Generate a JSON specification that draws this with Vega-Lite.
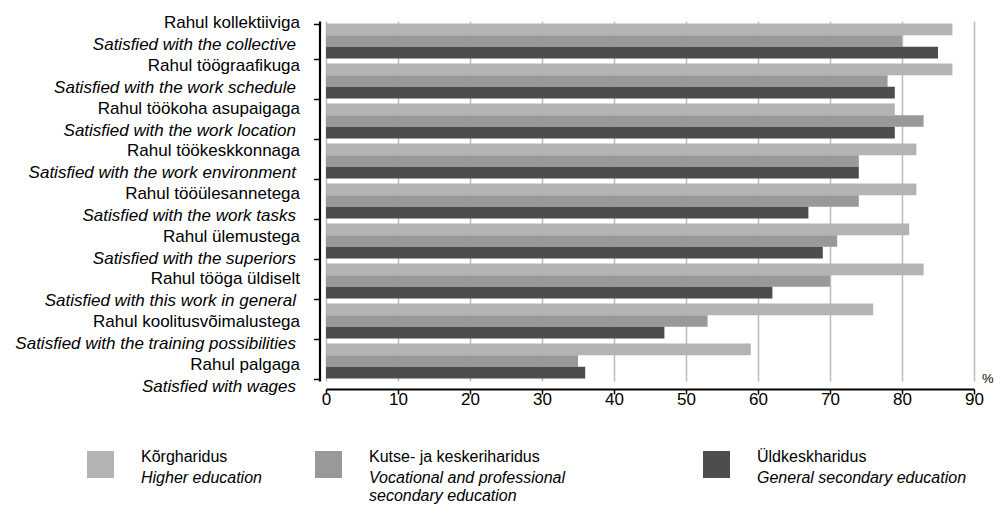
{
  "$schema": "https://vega.github.io/schema/vega-lite/v6.json",
  "autosize": {"type": "none"},
  "padding": {"left": 326, "top": 21, "right": 21, "bottom": 125},
  "width": 648,
  "height": 360,
  "config": {
    "font": "Liberation Sans",
    "view": {"stroke": null},
    "legend": {
      "padding": 0, "title": null, "orient": "none", "direction": "horizontal",
      "symbolType": "square", "symbolSize": 729, "symbolStrokeWidth": 0,
      "labelOffset": 27, "labelFontSize": 16, "labelColor": "#000000", "labelLimit": 400
    }
  },
  "data": {
    "values": [
      {"cat": "Rahul kollektiiviga", "en": "Satisfied with the collective", "edu": "Kõrgharidus", "eduEn": "Higher education", "value": 87},
      {"cat": "Rahul kollektiiviga", "en": "Satisfied with the collective", "edu": "Kutse- ja keskeriharidus", "eduEn": "Vocational and professional secondary education", "value": 80},
      {"cat": "Rahul kollektiiviga", "en": "Satisfied with the collective", "edu": "Üldkeskharidus", "eduEn": "General secondary education", "value": 85},
      {"cat": "Rahul töögraafikuga", "en": "Satisfied with the work schedule", "edu": "Kõrgharidus", "eduEn": "Higher education", "value": 87},
      {"cat": "Rahul töögraafikuga", "en": "Satisfied with the work schedule", "edu": "Kutse- ja keskeriharidus", "eduEn": "Vocational and professional secondary education", "value": 78},
      {"cat": "Rahul töögraafikuga", "en": "Satisfied with the work schedule", "edu": "Üldkeskharidus", "eduEn": "General secondary education", "value": 79},
      {"cat": "Rahul töökoha asupaigaga", "en": "Satisfied with the work location", "edu": "Kõrgharidus", "eduEn": "Higher education", "value": 79},
      {"cat": "Rahul töökoha asupaigaga", "en": "Satisfied with the work location", "edu": "Kutse- ja keskeriharidus", "eduEn": "Vocational and professional secondary education", "value": 83},
      {"cat": "Rahul töökoha asupaigaga", "en": "Satisfied with the work location", "edu": "Üldkeskharidus", "eduEn": "General secondary education", "value": 79},
      {"cat": "Rahul töökeskkonnaga", "en": "Satisfied with the work environment", "edu": "Kõrgharidus", "eduEn": "Higher education", "value": 82},
      {"cat": "Rahul töökeskkonnaga", "en": "Satisfied with the work environment", "edu": "Kutse- ja keskeriharidus", "eduEn": "Vocational and professional secondary education", "value": 74},
      {"cat": "Rahul töökeskkonnaga", "en": "Satisfied with the work environment", "edu": "Üldkeskharidus", "eduEn": "General secondary education", "value": 74},
      {"cat": "Rahul tööülesannetega", "en": "Satisfied with the work tasks", "edu": "Kõrgharidus", "eduEn": "Higher education", "value": 82},
      {"cat": "Rahul tööülesannetega", "en": "Satisfied with the work tasks", "edu": "Kutse- ja keskeriharidus", "eduEn": "Vocational and professional secondary education", "value": 74},
      {"cat": "Rahul tööülesannetega", "en": "Satisfied with the work tasks", "edu": "Üldkeskharidus", "eduEn": "General secondary education", "value": 67},
      {"cat": "Rahul ülemustega", "en": "Satisfied with the superiors", "edu": "Kõrgharidus", "eduEn": "Higher education", "value": 81},
      {"cat": "Rahul ülemustega", "en": "Satisfied with the superiors", "edu": "Kutse- ja keskeriharidus", "eduEn": "Vocational and professional secondary education", "value": 71},
      {"cat": "Rahul ülemustega", "en": "Satisfied with the superiors", "edu": "Üldkeskharidus", "eduEn": "General secondary education", "value": 69},
      {"cat": "Rahul tööga üldiselt", "en": "Satisfied with this work in general", "edu": "Kõrgharidus", "eduEn": "Higher education", "value": 83},
      {"cat": "Rahul tööga üldiselt", "en": "Satisfied with this work in general", "edu": "Kutse- ja keskeriharidus", "eduEn": "Vocational and professional secondary education", "value": 70},
      {"cat": "Rahul tööga üldiselt", "en": "Satisfied with this work in general", "edu": "Üldkeskharidus", "eduEn": "General secondary education", "value": 62},
      {"cat": "Rahul koolitusvõimalustega", "en": "Satisfied with the training possibilities", "edu": "Kõrgharidus", "eduEn": "Higher education", "value": 76},
      {"cat": "Rahul koolitusvõimalustega", "en": "Satisfied with the training possibilities", "edu": "Kutse- ja keskeriharidus", "eduEn": "Vocational and professional secondary education", "value": 53},
      {"cat": "Rahul koolitusvõimalustega", "en": "Satisfied with the training possibilities", "edu": "Üldkeskharidus", "eduEn": "General secondary education", "value": 47},
      {"cat": "Rahul palgaga", "en": "Satisfied with wages", "edu": "Kõrgharidus", "eduEn": "Higher education", "value": 59},
      {"cat": "Rahul palgaga", "en": "Satisfied with wages", "edu": "Kutse- ja keskeriharidus", "eduEn": "Vocational and professional secondary education", "value": 35},
      {"cat": "Rahul palgaga", "en": "Satisfied with wages", "edu": "Üldkeskharidus", "eduEn": "General secondary education", "value": 36}
    ]
  },
  "resolve": {
    "scale": {"y": "independent", "color": "independent"},
    "axis": {"y": "independent"},
    "legend": {"color": "independent"}
  },
  "layer": [
    {
      "mark": {"type": "bar"},
      "encoding": {
        "y": {
          "field": "cat", "type": "nominal", "sort": null,
          "scale": {"paddingInner": 0.125, "paddingOuter": 0.0625},
          "axis": {
            "orient": "left", "title": null, "labels": false, "grid": false,
            "offset": 6.5, "domainColor": "#000000", "domainWidth": 2.2,
            "ticks": true, "tickBand": "extent", "tickSize": 6, "tickColor": "#000000", "tickWidth": 1.5
          }
        },
        "yOffset": {
          "field": "edu", "type": "nominal",
          "sort": ["Kõrgharidus", "Kutse- ja keskeriharidus", "Üldkeskharidus"],
          "scale": {"paddingInner": 0, "paddingOuter": 0}
        },
        "x": {
          "field": "value", "type": "quantitative",
          "scale": {"domain": [0, 90], "nice": false},
          "axis": {
            "values": [0, 10, 20, 30, 40, 50, 60, 70, 80, 90],
            "grid": true, "gridColor": "#bdbdbd", "gridWidth": 1.5,
            "offset": 8, "domainColor": "#000000", "domainWidth": 2.2,
            "tickColor": "#000000", "tickWidth": 1.5, "tickSize": 5,
            "labelFontSize": 17, "labelColor": "#000000", "labelPadding": -3, "labelFlush": false,
            "title": "%", "titleX": 655.5, "titleY": -7, "titleAlign": "left", "titleBaseline": "alphabetic",
            "titleFontSize": 13, "titleFontWeight": "normal", "titleColor": "#000000"
          }
        },
        "color": {
          "field": "edu", "type": "nominal",
          "scale": {
            "domain": ["Kõrgharidus", "Kutse- ja keskeriharidus", "Üldkeskharidus"],
            "range": ["#b3b3b3", "#999999", "#4d4d4d"]
          },
          "legend": {"values": ["Kõrgharidus"], "legendX": -239, "legendY": 430, "labelBaseline": "bottom"}
        }
      }
    },
    {
      "mark": {"type": "point", "opacity": 0},
      "encoding": {
        "y": {
          "field": "cat", "type": "nominal", "sort": null,
          "scale": {"type": "point", "padding": 0.215},
          "axis": {
            "orient": "left", "title": null, "grid": false, "domain": false, "ticks": false, "tickSize": 0,
            "offset": 6.5, "labelPadding": 20, "labelFontSize": 17, "labelColor": "#000000",
            "labelLimit": 400, "labelOffset": -7.5
          }
        }
      }
    },
    {
      "mark": {"type": "point", "opacity": 0},
      "encoding": {
        "y": {
          "field": "en", "type": "nominal", "sort": null,
          "scale": {"type": "point", "padding": 0.215},
          "axis": {
            "orient": "left", "title": null, "grid": false, "domain": false, "ticks": false, "tickSize": 0,
            "offset": 6.5, "labelPadding": 24, "labelFontSize": 17, "labelColor": "#000000",
            "labelFontStyle": "italic", "labelLimit": 400, "labelOffset": 14.5
          }
        }
      }
    },
    {
      "transform": [{"filter": "false"}],
      "mark": {"type": "square", "filled": true},
      "encoding": {
        "color": {
          "field": "edu", "type": "nominal",
          "scale": {
            "domain": ["Kõrgharidus", "Kutse- ja keskeriharidus", "Üldkeskharidus"],
            "range": ["#b3b3b3", "#999999", "#4d4d4d"]
          },
          "legend": {"values": ["Kutse- ja keskeriharidus"], "legendX": -11, "legendY": 430, "labelBaseline": "bottom", "symbolOpacity": 1}
        }
      }
    },
    {
      "transform": [{"filter": "false"}],
      "mark": {"type": "square", "filled": true},
      "encoding": {
        "color": {
          "field": "edu", "type": "nominal",
          "scale": {
            "domain": ["Kõrgharidus", "Kutse- ja keskeriharidus", "Üldkeskharidus"],
            "range": ["#b3b3b3", "#999999", "#4d4d4d"]
          },
          "legend": {"values": ["Üldkeskharidus"], "legendX": 377, "legendY": 430, "labelBaseline": "bottom", "symbolOpacity": 1}
        }
      }
    },
    {
      "transform": [{"filter": "false"}],
      "mark": {"type": "square", "filled": true},
      "encoding": {
        "color": {
          "field": "eduEn", "type": "nominal",
          "scale": {
            "domain": ["Higher education", "Vocational and professional secondary education", "General secondary education"],
            "range": ["#b3b3b3", "#999999", "#4d4d4d"]
          },
          "legend": {
            "values": ["Higher education"], "legendX": -239, "legendY": 435,
            "symbolOpacity": 0, "labelFontStyle": "italic", "labelBaseline": "top",
            "labelExpr": "[datum.label, '']"
          }
        }
      }
    },
    {
      "transform": [{"filter": "false"}],
      "mark": {"type": "square", "filled": true},
      "encoding": {
        "color": {
          "field": "eduEn", "type": "nominal",
          "scale": {
            "domain": ["Higher education", "Vocational and professional secondary education", "General secondary education"],
            "range": ["#b3b3b3", "#999999", "#4d4d4d"]
          },
          "legend": {
            "values": ["Vocational and professional secondary education"], "legendX": -11, "legendY": 435,
            "symbolOpacity": 0, "labelFontStyle": "italic", "labelBaseline": "top",
            "labelExpr": "['Vocational and professional', 'secondary education']"
          }
        }
      }
    },
    {
      "transform": [{"filter": "false"}],
      "mark": {"type": "square", "filled": true},
      "encoding": {
        "color": {
          "field": "eduEn", "type": "nominal",
          "scale": {
            "domain": ["Higher education", "Vocational and professional secondary education", "General secondary education"],
            "range": ["#b3b3b3", "#999999", "#4d4d4d"]
          },
          "legend": {
            "values": ["General secondary education"], "legendX": 377, "legendY": 435,
            "symbolOpacity": 0, "labelFontStyle": "italic", "labelBaseline": "top",
            "labelExpr": "[datum.label, '']"
          }
        }
      }
    }
  ]
}
